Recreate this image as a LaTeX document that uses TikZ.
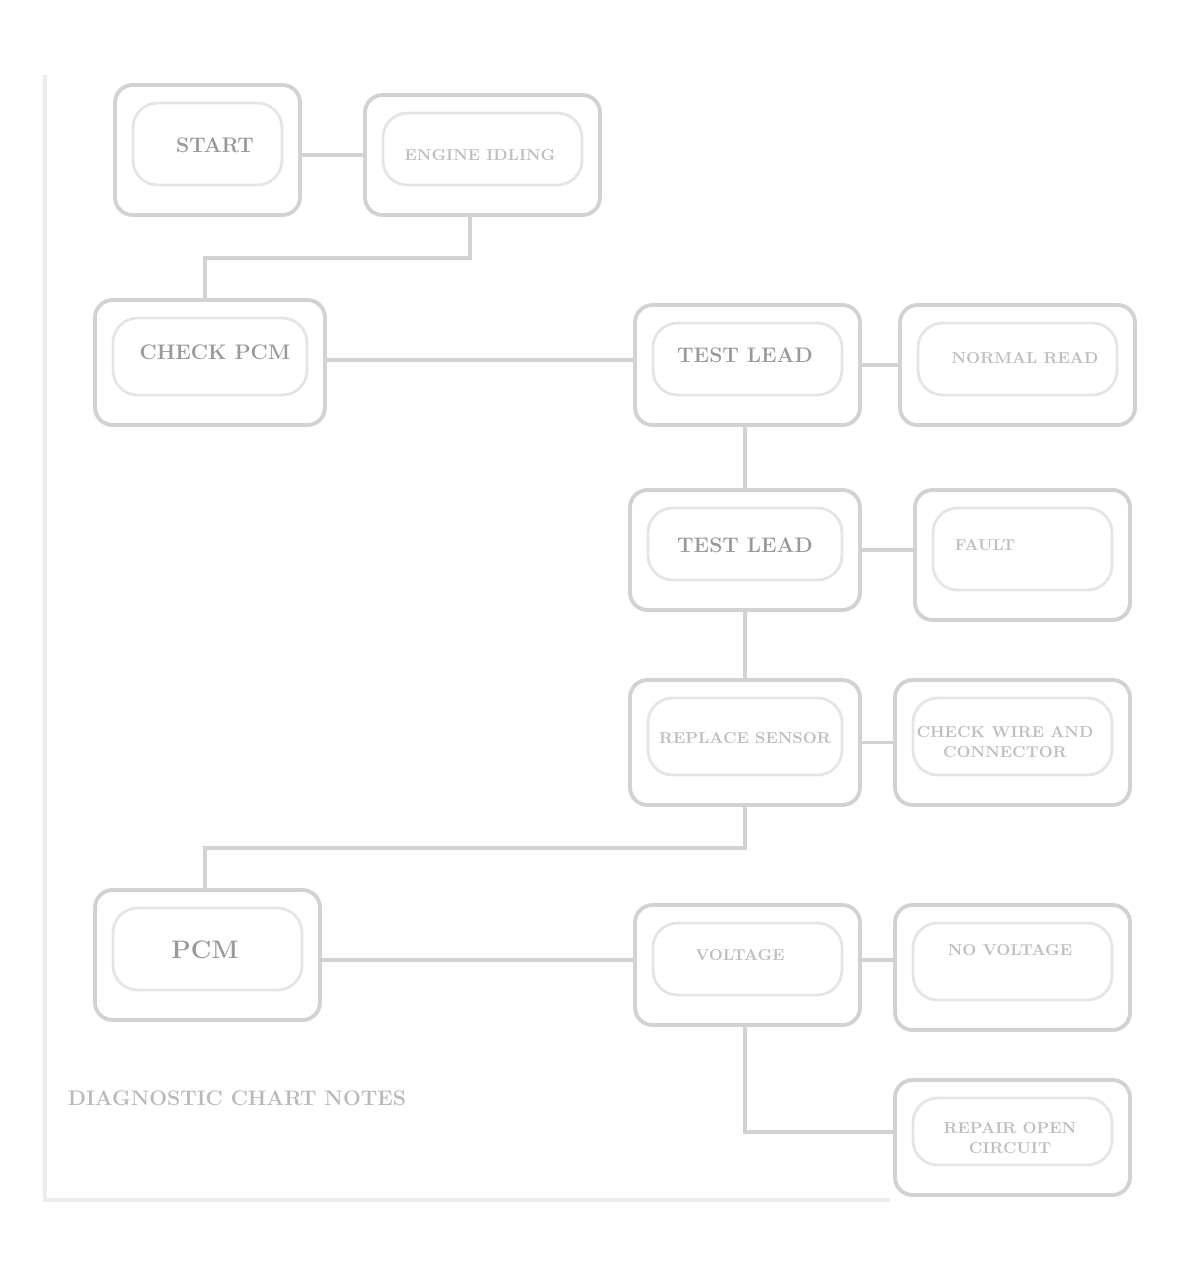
\documentclass[tikz,border=0pt]{standalone}
\usetikzlibrary{calc}
\begin{document}
\begin{tikzpicture}[x=0.02cm,y=-0.02cm,
  frame/.style={draw=gray!35,line width=2.2pt,rounded corners=10pt},
  inner/.style={draw=gray!20,line width=1.6pt,rounded corners=14pt},
  wire/.style={draw=gray!35,line width=2pt},
  dark/.style={font=\bfseries\large,text=gray!80},
  light/.style={font=\bfseries\small,text=gray!50,align=center}]
\useasboundingbox (0,0) rectangle (1183,1281);
% outer left and bottom border
\draw[draw=gray!15,line width=2pt] (45,75) -- (45,1200) -- (890,1200);
% boxes: name, x1,y1,x2,y2
\foreach \n/\xa/\ya/\xb/\yb in {A/115/85/300/215, B/365/95/600/215, C/95/300/325/425,
  D/635/305/860/425, E/900/305/1135/425, F/630/490/860/610, G/915/490/1130/620,
  H/630/680/860/805, I/895/680/1130/805, J/95/890/320/1020, K/635/905/860/1025,
  L/895/905/1130/1030, M/895/1080/1130/1195}{
  \node[frame,minimum width={(\xb-\xa)*0.02cm},minimum height={(\yb-\ya)*0.02cm},inner sep=0pt]
    (\n) at ({(\xa+\xb)/2},{(\ya+\yb)/2}) {};
  \draw[inner] (\xa+18,\ya+18) rectangle (\xb-18,\yb-30);
}
% texts
\node[dark] (tA) at (215,145) {START};
\node[light] (tB) at (480,155) {ENGINE IDLING};
\node[dark] (tC) at (215,352) {CHECK PCM};
\node[dark] (tD) at (745,355) {TEST LEAD};
\node[light] (tE) at (1025,358) {NORMAL READ};
\node[dark] (tF) at (745,545) {TEST LEAD};
\node[light] (tG) at (985,545) {FAULT};
\node[light] (tH) at (745,738) {REPLACE SENSOR};
\node[light] (tI) at (1005,742) {CHECK WIRE AND\\CONNECTOR};
\node[dark,font=\bfseries\Large] (tJ) at (205,950) {PCM};
\node[light] (tK) at (740,955) {VOLTAGE};
\node[light] (tL) at (1010,950) {NO VOLTAGE};
\node[light] (tM) at (1010,1138) {REPAIR OPEN\\CIRCUIT};
\node[font=\bfseries\large,text=gray!55] (foot) at (237,1098) {DIAGNOSTIC CHART NOTES};
% connectors
\draw[wire] (A.east |- 0,155) -- (B.west |- 0,155);
\coordinate (b1) at (470,258);
\coordinate (b2) at (205,258);
\draw[wire] (B.south -| b1) -- (b1) -- (b2) -- (C.north -| b2);
\draw[wire] (C.east |- 0,360) -- (D.west |- 0,360);
\draw[wire] (D.east) -- (E.west |- D.east);
\draw[wire] (D.south -| 745,0) -- (F.north -| 745,0);
\draw[wire] (F.east) -- (G.west |- F.east);
\draw[wire] (F.south -| 745,0) -- (H.north -| 745,0);
\draw[wire] (H.east) -- (I.west |- H.east);
\coordinate (h1) at (745,848);
\coordinate (h2) at (205,848);
\draw[wire] (H.south -| h1) -- (h1) -- (h2) -- (J.north -| h2);
\draw[wire] (J.east |- 0,960) -- (K.west |- 0,960);
\draw[wire] (K.east |- 0,960) -- (L.west |- 0,960);
\coordinate (k1) at (745,1132);
\draw[wire] (K.south -| k1) -- (k1) -- (M.west |- k1);
\end{tikzpicture}
\end{document}
